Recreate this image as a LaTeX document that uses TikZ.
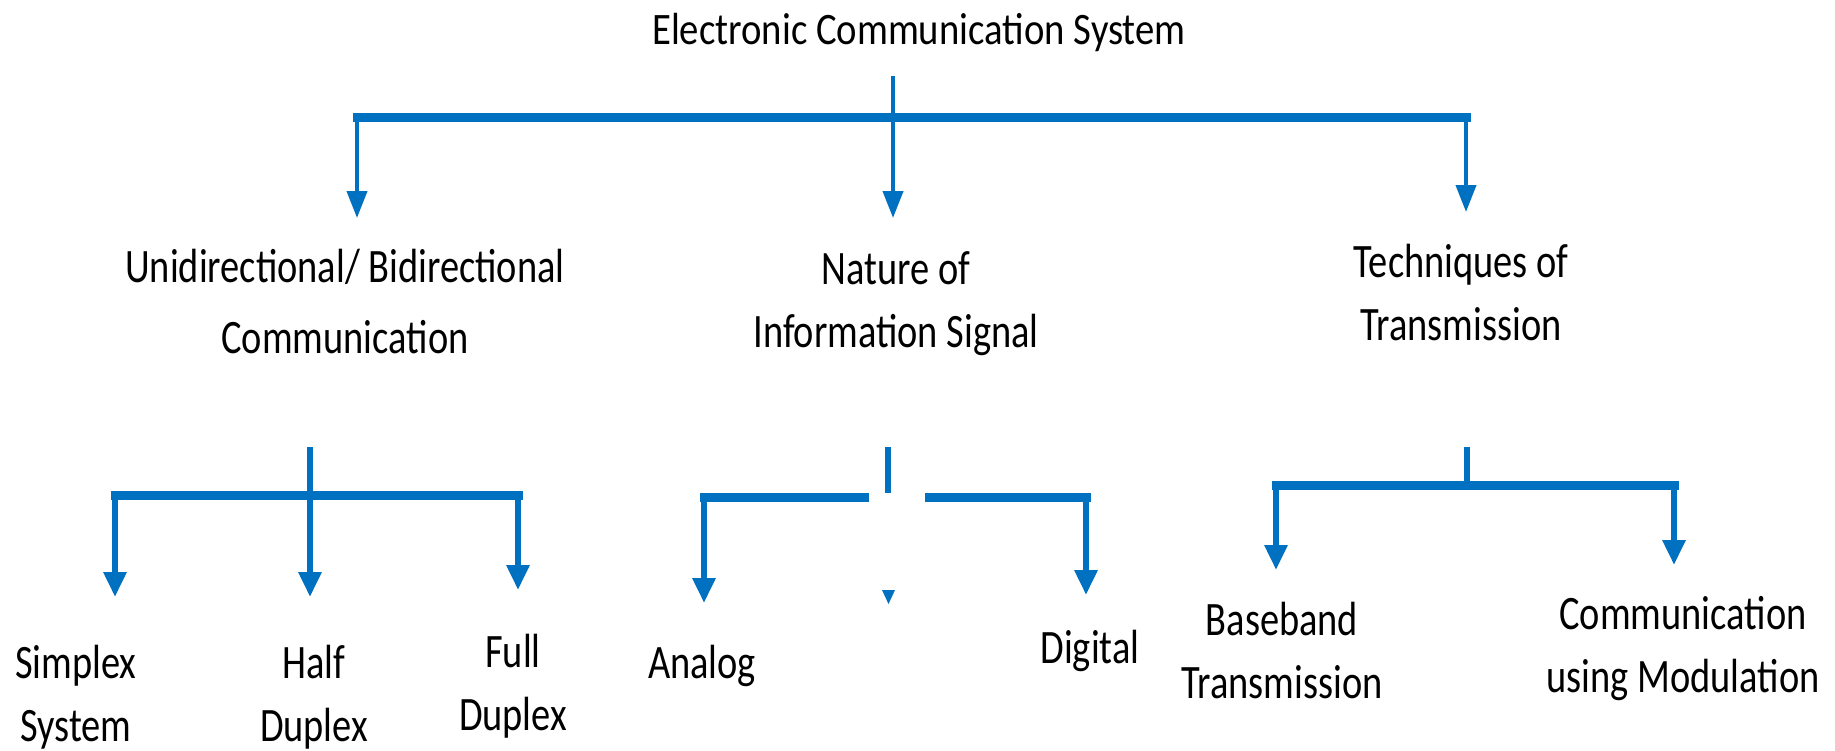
\documentclass[tikz,border=0pt]{standalone}
\usepackage{fontspec}
\setmainfont{Carlito}[FakeStretch=0.8]
\newfontfamily\titlefont{Carlito}[FakeStretch=0.86]
\usepackage{tikz}
\usetikzlibrary{arrows.meta}
\definecolor{ecsblue}{HTML}{0070C0}
\tikzstyle{connector} = [line width=6pt, draw=ecsblue, -{Triangle[width=22pt,length=25pt]}]
\tikzstyle{top-connector} = [line width=4pt, draw=ecsblue, -{Triangle[width=20pt,length=27pt]}]
\tikzstyle{stem} = [line width=6pt, draw=ecsblue]
\tikzstyle{top-stem} = [line width=4pt, draw=ecsblue]
\tikzstyle{busbar} = [line width=9pt, draw=ecsblue, line cap=rect]
\tikzstyle{heading} = [align=center, inner sep=0pt, anchor=base, font=\fontsize{48}{63}\selectfont]

\begin{document}
\begin{tikzpicture}[x=1pt, y=-1pt]
        \useasboundingbox (0,0) rectangle (1835,750);
        % labels (base = baseline of the last line)
        \node (title) [heading, font=\titlefont\fontsize{45}{54}\selectfont] at (919,44) {Electronic Communication System};
        \node (uni-bi) [heading] at (345,353) {Unidirectional/ Bidirectional\\[8pt]Communication};
        \node (nature) [heading] at (896,347) {Nature of\\Information Signal};
        \node (techniques) [heading] at (1461,340) {Techniques of\\Transmission};
        \node (simplex) [heading] at (76,741) {Simplex\\System};
        \node (half-duplex) [heading] at (314,741) {Half\\Duplex};
        \node (full-duplex) [heading] at (513,730) {Full\\Duplex};
        \node (analog) [heading] at (702,678) {Analog};
        \node (digital) [heading] at (1090,663) {Digital};
        \node (baseband) [heading] at (1282,698) {Baseband\\Transmission};
        \node (modulation) [heading] at (1683,692) {Communication\\using Modulation};
        % branch points
        \coordinate (title-stem) at (893,76);
        \coordinate (title-hub) at (893,117);
        \coordinate (title-left) at (357,117);
        \coordinate (title-right) at (1466,117);
        \coordinate (tip-uni-bi) at (357,218);
        \coordinate (tip-nature) at (893,218);
        \coordinate (tip-techniques) at (1466,212);
        \coordinate (uni-bi-stem) at (310,447);
        \coordinate (uni-bi-hub) at (310,495);
        \coordinate (uni-bi-left) at (115,495);
        \coordinate (uni-bi-right) at (518,495);
        \coordinate (tip-simplex) at (115,597);
        \coordinate (tip-half-duplex) at (310,597);
        \coordinate (tip-full-duplex) at (518,590);
        \coordinate (nature-stem) at (888,447);
        \coordinate (nature-hub) at (888,493);
        \coordinate (nature-left) at (704,497);
        \coordinate (nature-gap-1) at (864,497);
        \coordinate (nature-gap-2) at (929,497);
        \coordinate (nature-right) at (1086,497);
        \coordinate (tip-analog) at (704,603);
        \coordinate (tip-digital) at (1086,595);
        \coordinate (techniques-stem) at (1467,447);
        \coordinate (techniques-hub) at (1467,485);
        \coordinate (techniques-left) at (1276,485);
        \coordinate (techniques-right) at (1674,485);
        \coordinate (tip-baseband) at (1276,570);
        \coordinate (tip-modulation) at (1674,565);
        % top level
        \draw [top-stem] (title-stem) -- (title-hub);
        \draw [busbar] (title-left) -- (title-right);
        \draw [top-connector] (title-left) -- (tip-uni-bi);
        \draw [top-connector] (title-hub) -- (tip-nature);
        \draw [top-connector] (title-right) -- (tip-techniques);
        % second level
        \draw [stem] (uni-bi-stem) -- (uni-bi-hub);
        \draw [busbar] (uni-bi-left) -- (uni-bi-right);
        \draw [connector] (uni-bi-left) -- (tip-simplex);
        \draw [connector] (uni-bi-hub) -- (tip-half-duplex);
        \draw [connector] (uni-bi-right) -- (tip-full-duplex);
        \draw [stem] (nature-stem) -- (nature-hub);
        \draw [busbar] (nature-left) -- (nature-gap-1);
        \draw [busbar] (nature-gap-2) -- (nature-right);
        \draw [connector] (nature-left) -- (tip-analog);
        \draw [connector] (nature-right) -- (tip-digital);
        \fill [ecsblue] (882,590) -- (895,590) -- (888.5,604) -- cycle;
        \draw [stem] (techniques-stem) -- (techniques-hub);
        \draw [busbar] (techniques-left) -- (techniques-right);
        \draw [connector] (techniques-left) -- (tip-baseband);
        \draw [connector] (techniques-right) -- (tip-modulation);
    \end{tikzpicture}
\end{document}
